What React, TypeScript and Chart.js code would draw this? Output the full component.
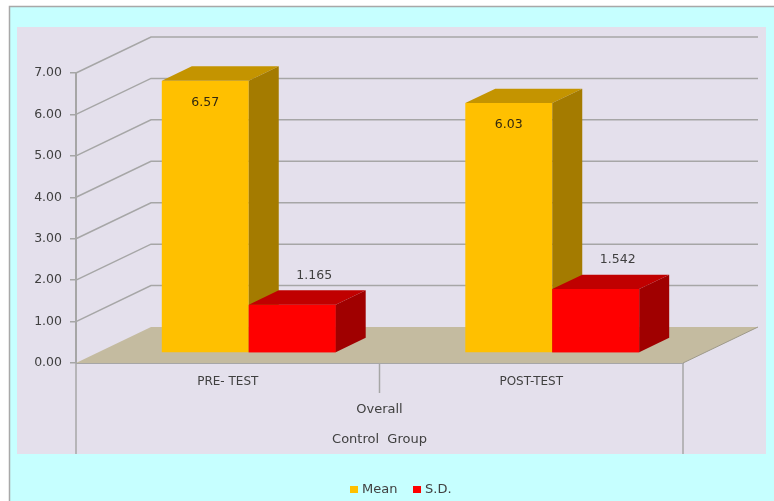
import React, { useEffect, useRef } from 'react';
import { Chart, registerables } from 'chart.js';

Chart.register(...registerables);

// ---- data ----
const categories = ['PRE- TEST', 'POST-TEST'];
const groupLabel = 'Overall';
const outerLabel = 'Control  Group';
const seriesNames = ['Mean', 'S.D.'];
const meanValues = [6.57, 6.03];
const sdValues = [1.165, 1.542];
const meanLabels = ['6.57', '6.03'];
const sdLabels = ['1.165', '1.542'];
const yMin = 0;
const yMax = 7;
const yStep = 1;

// ---- style ----
const W = 774;
const H = 501;
const FONT = '"DejaVu Sans", Verdana, sans-serif';
const DX = 75;
const DY = -36;
const BAR_F = 0.28;
const BAR_D = 0.4;
const GRID = '#A6A6A6';
const TEXT = '#404040';
const faces = [
  { front: '#FFC000', top: '#C49400', side: '#A47B00' },
  { front: '#FF0000', top: '#C00000', side: '#A00000' },
];

function drawFaces(ctx: any, meta: any, f: any) {
  const dx = DX * BAR_D;
  const dy = DY * BAR_D;
  meta.data.forEach((bar: any) => {
    const p = bar.getProps(['x', 'y', 'base', 'width'], true);
    const l = p.x - p.width / 2;
    const r = p.x + p.width / 2;
    ctx.fillStyle = f.top;
    ctx.beginPath();
    ctx.moveTo(l, p.y);
    ctx.lineTo(l + dx, p.y + dy);
    ctx.lineTo(r + dx, p.y + dy);
    ctx.lineTo(r, p.y);
    ctx.closePath();
    ctx.fill();
    ctx.fillStyle = f.side;
    ctx.beginPath();
    ctx.moveTo(r, p.y);
    ctx.lineTo(r + dx, p.y + dy);
    ctx.lineTo(r + dx, p.base + dy);
    ctx.lineTo(r, p.base);
    ctx.closePath();
    ctx.fill();
  });
}

const threeD = {
  id: 'threeD',
  beforeDraw(chart: any) {
    const { ctx, chartArea: a, scales } = chart;
    const x = scales.x;
    const y = scales.y;
    ctx.save();
    ctx.fillStyle = '#FFFFFF';
    ctx.fillRect(0, 0, W, H);
    ctx.fillStyle = '#C6FFFF';
    ctx.fillRect(9, 6, W - 9, H - 6);
    ctx.strokeStyle = '#A8A8A8';
    ctx.lineWidth = 1.5;
    ctx.beginPath();
    ctx.moveTo(9.5, H);
    ctx.lineTo(9.5, 6.5);
    ctx.lineTo(W, 6.5);
    ctx.stroke();
    // plot area
    ctx.fillStyle = '#E4E0EC';
    ctx.fillRect(17, 27, 766 - 17, 454 - 27);

    // wall gridlines
    ctx.strokeStyle = GRID;
    ctx.lineWidth = 1.5;
    y.ticks.forEach((t: any) => {
      if (t.value <= yMin) return;
      const yy = y.getPixelForValue(t.value);
      ctx.beginPath();
      ctx.moveTo(a.left, yy);
      ctx.lineTo(a.left + DX, yy + DY);
      ctx.lineTo(a.right + DX, yy + DY);
      ctx.stroke();
    });
    // floor
    const y0 = y.getPixelForValue(yMin);
    ctx.fillStyle = '#C4BBA0';
    ctx.beginPath();
    ctx.moveTo(a.left, y0);
    ctx.lineTo(a.left + DX, y0 + DY);
    ctx.lineTo(a.right + DX, y0 + DY);
    ctx.lineTo(a.right, y0);
    ctx.closePath();
    ctx.fill();
    ctx.strokeStyle = '#9E9A8A';
    ctx.lineWidth = 1;
    ctx.beginPath();
    ctx.moveTo(a.right, y0);
    ctx.lineTo(a.right + DX, y0 + DY);
    ctx.stroke();

    // multi-level category dividers
    ctx.strokeStyle = GRID;
    ctx.lineWidth = 1.5;
    const mid = x.getPixelForValue(0.5);
    ctx.beginPath();
    ctx.moveTo(mid, y0);
    ctx.lineTo(mid, y0 + 30);
    ctx.moveTo(a.left, y0);
    ctx.lineTo(a.left, 454);
    ctx.moveTo(a.right, y0);
    ctx.lineTo(a.right, 454);
    ctx.stroke();

    const cx = (a.left + a.right) / 2;
    ctx.fillStyle = TEXT;
    ctx.font = `13px ${FONT}`;
    ctx.textAlign = 'center';
    ctx.textBaseline = 'middle';
    ctx.fillText(groupLabel, cx, y0 + 47);
    ctx.fillText(outerLabel, cx, y0 + 77);

    // legend
    const lx = 350;
    const ly = 490;
    chart.data.datasets.forEach((ds: any, i: number) => {
      const ox = lx + i * 63;
      ctx.fillStyle = ds.backgroundColor;
      ctx.fillRect(ox, ly - 4, 8, 7);
      ctx.fillStyle = TEXT;
      ctx.textAlign = 'left';
      ctx.font = `13px ${FONT}`;
      ctx.fillText(ds.label, ox + 12, ly);
    });
    ctx.restore();
  },
  beforeDatasetsDraw(chart: any) {
    chart.ctx.save();
    chart.ctx.translate(DX * BAR_F, DY * BAR_F);
  },
  afterDatasetsDraw(chart: any) {
    const ctx = chart.ctx;
    // Mean faces, then S.D. front redrawn on top (occludes Mean side), then S.D. faces
    const m0 = chart.getDatasetMeta(0);
    const m1 = chart.getDatasetMeta(1);
    drawFaces(ctx, m0, faces[0]);
    m1.controller.draw();
    drawFaces(ctx, m1, faces[1]);
    ctx.restore();

    const fx = DX * BAR_F;
    const fy = DY * BAR_F;
    ctx.save();
    ctx.textAlign = 'center';
    ctx.textBaseline = 'middle';
    ctx.font = `12.5px ${FONT}`;
    m0.data.forEach((bar: any, i: number) => {
      ctx.fillStyle = '#33290F';
      ctx.fillText(meanLabels[i], bar.x + fx, bar.y + fy + 22);
    });
    m1.data.forEach((bar: any, i: number) => {
      ctx.fillStyle = TEXT;
      ctx.fillText(sdLabels[i], bar.x + fx + 22, bar.y + fy - 29);
    });
    ctx.restore();
  },
};

export default function App() {
  const ref = useRef<HTMLCanvasElement | null>(null);
  useEffect(() => {
    document.body.style.margin = '0';
    const canvas = ref.current;
    if (!canvas) return;
    const chart = new Chart(canvas, {
      type: 'bar',
      data: {
        labels: categories,
        datasets: [
          {
            label: seriesNames[0],
            data: meanValues,
            backgroundColor: faces[0].front,
            borderWidth: 0,
            clip: false,
            categoryPercentage: 0.573,
            barPercentage: 1,
          },
          {
            label: seriesNames[1],
            data: sdValues,
            backgroundColor: faces[1].front,
            borderWidth: 0,
            clip: false,
            categoryPercentage: 0.573,
            barPercentage: 1,
          },
        ],
      },
      options: {
        responsive: false,
        animation: false,
        layout: { padding: { left: 0, top: 73, right: 91, bottom: 0 } },
        plugins: { legend: { display: false }, tooltip: { enabled: false } },
        scales: {
          x: {
            grid: { display: false, drawTicks: false },
            border: { display: true, color: GRID, width: 1 },
            ticks: { color: TEXT, font: { family: FONT, size: 12 }, padding: 12, maxRotation: 0 },
            afterFit: (s: any) => {
              s.height = H - 363;
            },
          },
          y: {
            min: yMin,
            max: yMax,
            grid: { drawOnChartArea: false, drawTicks: true, tickLength: 6, color: GRID, lineWidth: 1.5 },
            border: { display: true, color: GRID, width: 2 },
            ticks: {
              stepSize: yStep,
              color: TEXT,
              font: { family: FONT, size: 12.5 },
              padding: 8,
              callback: (v: any) => Number(v).toFixed(2),
            },
            afterFit: (s: any) => {
              s.width = 76;
            },
          },
        },
      },
      plugins: [threeD],
    });
    return () => chart.destroy();
  }, []);
  return (
    <div style={{ width: W, height: H, position: 'relative' }}>
      <canvas ref={ref} width={W} height={H} style={{ display: 'block' }} />
    </div>
  );
}
